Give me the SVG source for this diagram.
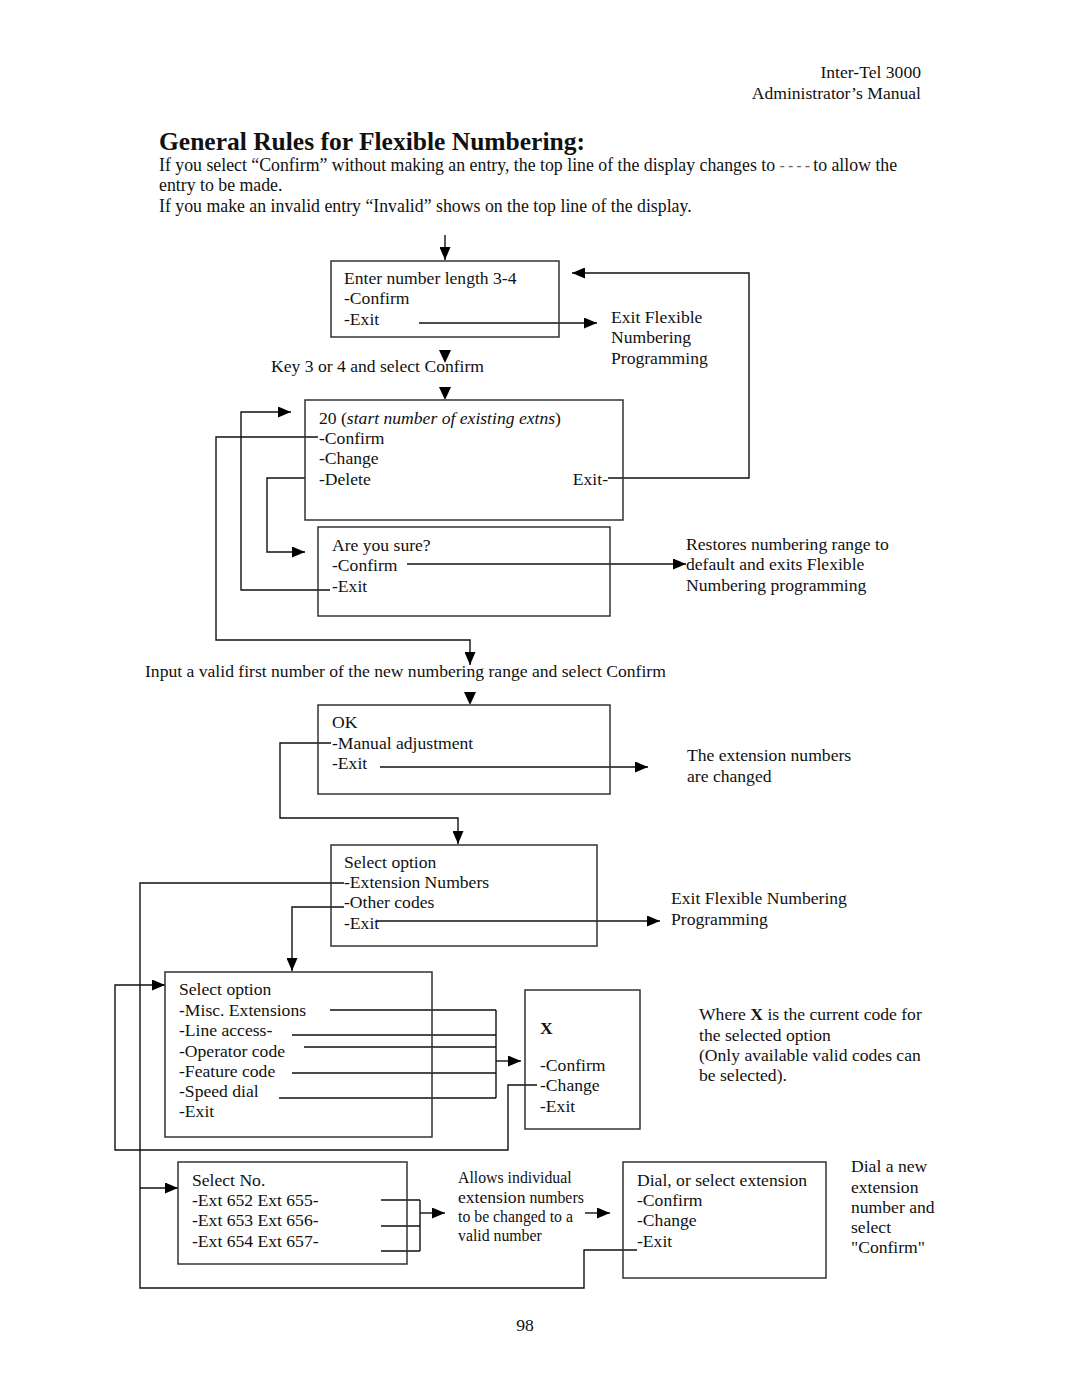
<svg xmlns="http://www.w3.org/2000/svg" xmlns:xlink="http://www.w3.org/1999/xlink" width="1080" height="1397" viewBox="0 0 1080 1397">
<defs>
<style>
text{font-family:"Liberation Serif","Times New Roman",serif;font-size:17.6px;fill:#111;}
.title{font-size:25.5px;font-weight:bold;}
.body{font-size:17.8px;}
.small{font-size:15.8px;}
.box{fill:none;stroke:#333;stroke-width:1.5;}
.ln{fill:none;stroke:#111;stroke-width:1.4;}
.arr{marker-end:url(#ah);}
.dash{font-family:"DejaVu Sans",sans-serif;font-size:15px;fill:#666;letter-spacing:3px;}
</style>
<marker id="ah" markerUnits="userSpaceOnUse" markerWidth="13" markerHeight="11" refX="13" refY="5.5" orient="auto">
<path d="M0,0 L13,5.5 L0,11 z" fill="#000"/>
</marker>
<path id="ahDown" d="M-6,0 L6,0 L0,13 z" fill="#000"/>
</defs>
<rect width="1080" height="1397" fill="#fff"/>

<g id="header">
<text x="921" y="78" text-anchor="end">Inter-Tel 3000</text>
<text x="921" y="99" text-anchor="end">Administrator’s Manual</text>
<text class="title" x="159" y="150">General Rules for Flexible Numbering:</text>
<text class="body" x="159" y="171">If you select “Confirm” without making an entry, the top line of the display changes to <tspan class="dash">----</tspan>to allow the</text>
<text class="body" x="159" y="191">entry to be made.</text>
<text class="body" x="159" y="212">If you make an invalid entry “Invalid” shows on the top line of the display.</text>
</g>

<g id="connectors">
<path class="ln arr" d="M445,235 V260"/>
<path class="ln arr" d="M419,323 H597"/>
<path class="ln arr" d="M608,478 H749 V273 H572"/>
<path class="ln arr" d="M407,564 H686"/>
<path class="ln arr" d="M305,478 H267 V552 H305"/>
<path class="ln arr" d="M330,590 H241 V412 H291"/>
<path class="ln arr" d="M318,437 H216 V640 H470 V665"/>
<path class="ln arr" d="M380,767 H648"/>
<path class="ln arr" d="M331,743 H280 V818 H458 V844"/>
<path class="ln arr" d="M377,921 H660"/>
<path class="ln" d="M344,883 H140 V1288 H584 V1250 H637"/>
<path class="ln arr" d="M140,1188 H178"/>
<path class="ln arr" d="M344,907 H292 V971"/>
<path class="ln" d="M330,1010 H496 M292,1035 H496 M304,1047 H496 M292,1073 H496 M279,1098 H496 M496,1010 V1098"/>
<path class="ln arr" d="M496,1061 H521"/>
<path class="ln arr" d="M537,1085 H508 V1150 H115 V985 H165"/>
<path class="ln" d="M381,1200 H420 M381,1226 H420 M381,1251 H420 M420,1200 V1251"/>
<path class="ln arr" d="M420,1213 H445"/>
<path class="ln arr" d="M585,1213 H610"/>
<use xlink:href="#ahDown" x="445" y="350"/>
<use xlink:href="#ahDown" x="445" y="387"/>
<use xlink:href="#ahDown" x="470" y="692"/>
</g>

<g id="node-length">
<rect class="box" x="331" y="261" width="228" height="76"/>
<text x="344" y="284">Enter number length 3-4</text>
<text x="344" y="304">-Confirm</text>
<text x="344" y="325">-Exit</text>
</g>
<g id="label-exit1">
<text x="611" y="323">Exit Flexible</text>
<text x="611" y="343">Numbering</text>
<text x="611" y="364">Programming</text>
</g>
<g id="label-key">
<text x="271" y="372">Key 3 or 4 and select Confirm</text>
</g>
<g id="node-start">
<rect class="box" x="305" y="400" width="318" height="120"/>
<text x="319" y="424">20 (<tspan font-style="italic">start number of existing extns</tspan>)</text>
<text x="319" y="444">-Confirm</text>
<text x="319" y="464">-Change</text>
<text x="319" y="485">-Delete</text>
<text x="608" y="485" text-anchor="end">Exit-</text>
</g>
<g id="node-sure">
<rect class="box" x="318" y="527" width="292" height="89"/>
<text x="332" y="551">Are you sure?</text>
<text x="332" y="571">-Confirm</text>
<text x="332" y="592">-Exit</text>
</g>
<g id="label-restores">
<text x="686" y="550">Restores numbering range to</text>
<text x="686" y="570">default and exits Flexible</text>
<text x="686" y="591">Numbering programming</text>
</g>
<g id="label-input">
<text x="145" y="677">Input a valid first number of the new numbering range and select Confirm</text>
</g>
<g id="node-ok">
<rect class="box" x="318" y="705" width="292" height="89"/>
<text x="332" y="728">OK</text>
<text x="332" y="749">-Manual adjustment</text>
<text x="332" y="769">-Exit</text>
</g>
<g id="label-changed">
<text x="687" y="761">The extension numbers</text>
<text x="687" y="782">are changed</text>
</g>
<g id="node-select1">
<rect class="box" x="331" y="845" width="266" height="101"/>
<text x="344" y="868">Select option</text>
<text x="344" y="888">-Extension Numbers</text>
<text x="344" y="908">-Other codes</text>
<text x="344" y="929">-Exit</text>
</g>
<g id="label-exit2">
<text x="671" y="904">Exit Flexible Numbering</text>
<text x="671" y="925">Programming</text>
</g>
<g id="node-select2">
<rect class="box" x="165" y="972" width="267" height="165"/>
<text x="179" y="995">Select option</text>
<text x="179" y="1016">-Misc. Extensions</text>
<text x="179" y="1036">-Line access-</text>
<text x="179" y="1057">-Operator code</text>
<text x="179" y="1077">-Feature code</text>
<text x="179" y="1097">-Speed dial</text>
<text x="179" y="1117">-Exit</text>
</g>
<g id="node-x">
<rect class="box" x="525" y="990" width="115" height="139"/>
<text x="540" y="1034" font-weight="bold">X</text>
<text x="540" y="1071">-Confirm</text>
<text x="540" y="1091">-Change</text>
<text x="540" y="1112">-Exit</text>
</g>
<g id="label-where">
<text x="699" y="1020">Where <tspan font-weight="bold">X</tspan> is the current code for</text>
<text x="699" y="1041">the selected option</text>
<text x="699" y="1061">(Only available valid codes can</text>
<text x="699" y="1081">be selected).</text>
</g>
<g id="node-selectno">
<rect class="box" x="178" y="1162" width="229" height="102"/>
<text x="192" y="1186">Select No.</text>
<text x="192" y="1206">-Ext 652 Ext 655-</text>
<text x="192" y="1226">-Ext 653 Ext 656-</text>
<text x="192" y="1247">-Ext 654 Ext 657-</text>
</g>
<g id="label-allows">
<text class="small" x="458" y="1183">Allows individual</text>
<text class="small" x="458" y="1203"><tspan font-size="17.6">extension</tspan> numbers</text>
<text class="small" x="458" y="1222">to be changed to a</text>
<text class="small" x="458" y="1241">valid number</text>
</g>
<g id="node-dial">
<rect class="box" x="623" y="1162" width="203" height="116"/>
<text x="637" y="1186">Dial, or select extension</text>
<text x="637" y="1206">-Confirm</text>
<text x="637" y="1226">-Change</text>
<text x="637" y="1247">-Exit</text>
</g>
<g id="label-dial">
<text x="851" y="1172">Dial a new</text>
<text x="851" y="1193">extension</text>
<text x="851" y="1213">number and</text>
<text x="851" y="1233">select</text>
<text x="851" y="1253">"Confirm"</text>
</g>
<g id="footer">
<text x="525" y="1331" text-anchor="middle">98</text>
</g>
</svg>
